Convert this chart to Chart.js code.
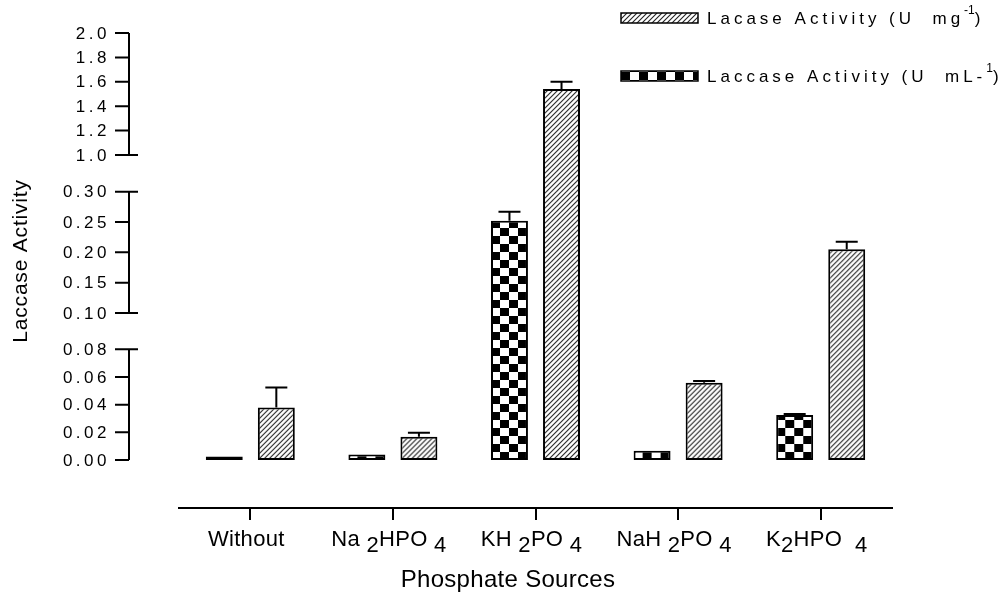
<!DOCTYPE html>
<html lang="en">
<head>
<meta charset="UTF-8">
<title>Laccase Activity - Phosphate Sources</title>
<script src="https://cdn.jsdelivr.net/npm/chart.js"></script>
<style>
   body { margin: 0; background: #fff; }
   .graph { width: 1008px; height: 608px; }
</style>
</head>
<body>
<div class="graph"><canvas id="myChart"></canvas></div>
<script>
   // data
   var categories = ['Without', 'Na2HPO4', 'KH2PO4', 'NaH2PO4', 'K2HPO4'];
   // same labels split into normal / subscript parts (1 = subscript)
   var categoryParts = [
      [['Without', 0]],
      [['Na ', 0], ['2', 1], ['HPO ', 0], ['4', 1]],
      [['KH ', 0], ['2', 1], ['PO ', 0], ['4', 1]],
      [['NaH ', 0], ['2', 1], ['PO ', 0], ['4', 1]],
      [['K', 0], ['2', 1], ['HPO  ', 0], ['4', 1]]
   ];
   var activityMl = [0.0025, 0.004, 0.252, 0.0067, 0.0325];
   var errorMl = [0, 0, 0.015, 0, 0.0008];
   var activityMg = [0.038, 0.0168, 1.541, 0.0559, 0.205];
   var errorMg = [0.0144, 0.0029, 0.06, 0.0012, 0.0125];

   var ticksTop = [1.0, 1.2, 1.4, 1.6, 1.8, 2.0];
   var ticksMid = [0.10, 0.15, 0.20, 0.25, 0.30];
   var ticksLow = [0.00, 0.02, 0.04, 0.06, 0.08];

   // broken axis: each value range gets its own stretch of the y scale
   var segments = [
      { min: 0, max: 0.08, from: 0, to: 110.7, ticks: ticksLow, digits: 2 },
      { min: 0.10, max: 0.30, from: 147, to: 268.3, ticks: ticksMid, digits: 2 },
      { min: 1.0, max: 2.0, from: 305, to: 427, ticks: ticksTop, digits: 1 }
   ];

   function toAxis(v) {
      for (var i = 0; i < segments.length; i++) {
         var s = segments[i];
         if (v <= s.max) {
            if (v >= s.min || i == 0) return s.from + (v - s.min) / (s.max - s.min) * (s.to - s.from);
            var p = segments[i - 1];
            return p.to + (v - p.max) / (s.min - p.max) * (s.from - p.to);
         }
      }
      var last = segments[segments.length - 1];
      return last.from + (v - last.min) / (last.max - last.min) * (last.to - last.from);
   }

   var canvas = document.getElementById('myChart');
   var ctx = canvas.getContext('2d');

   function hatchPattern() {
      var c = document.createElement('canvas');
      c.width = 5; c.height = 5;
      var g = c.getContext('2d');
      g.fillStyle = '#fff';
      g.fillRect(0, 0, 5, 5);
      g.strokeStyle = '#222';
      g.lineWidth = 1.1;
      g.beginPath();
      g.moveTo(-1, 6); g.lineTo(6, -1);
      g.moveTo(-1, 1); g.lineTo(1, -1);
      g.moveTo(4, 6); g.lineTo(6, 4);
      g.stroke();
      return ctx.createPattern(c, 'repeat');
   }

   function checkerPattern() {
      var c = document.createElement('canvas');
      c.width = 18; c.height = 16;
      var g = c.getContext('2d');
      g.fillStyle = '#fff';
      g.fillRect(0, 0, 18, 16);
      g.fillStyle = '#000';
      g.fillRect(0, 0, 9, 8);
      g.fillRect(9, 8, 9, 8);
      return ctx.createPattern(c, 'repeat');
   }

   var checkers = activityMl.map(function () { return checkerPattern(); });
   var hatches = activityMg.map(function () { return hatchPattern(); });
   var legendHatch = hatchPattern();
   var legendChecker = checkerPattern();

   var font = '"Liberation Sans", Arial, sans-serif';

   function drawParts(c, parts, x, y, size, spacing, shift) {
      c.save();
      c.letterSpacing = spacing + 'px';
      c.font = size + 'px ' + font;
      var total = 0;
      parts.forEach(function (p) { total += c.measureText(p[0]).width; });
      var cx = x - total / 2;
      c.textAlign = 'left';
      c.textBaseline = 'middle';
      c.fillStyle = '#000';
      parts.forEach(function (p) {
         c.fillText(p[0], cx, y + (p[1] ? shift : 0));
         cx += c.measureText(p[0]).width;
      });
      c.restore();
      return total;
   }

   var brokenAxis = {
      id: 'brokenAxis',
      beforeDatasetsDraw: function (chart) {
         // line the patterns up with each bar
         chart.data.datasets.forEach(function (ds, di) {
            chart.getDatasetMeta(di).data.forEach(function (bar, i) {
               var pat = ds.backgroundColor[i];
               pat.setTransform(new DOMMatrix().translate(bar.x - bar.width / 2, bar.base));
            });
         });
      },
      afterDatasetsDraw: function (chart) {
         var c = chart.ctx;
         var y = chart.scales.y;
         var errors = [errorMl, errorMg];
         var values = [activityMl, activityMg];

         // error bars
         c.save();
         c.strokeStyle = '#000';
         c.lineWidth = 2;
         chart.data.datasets.forEach(function (ds, di) {
            chart.getDatasetMeta(di).data.forEach(function (bar, i) {
               var e = errors[di][i];
               if (!e) return;
               var top = y.getPixelForValue(toAxis(values[di][i] + e));
               c.beginPath();
               c.moveTo(bar.x, bar.y);
               c.lineTo(bar.x, top);
               c.moveTo(bar.x - 11, top);
               c.lineTo(bar.x + 11, top);
               c.stroke();
            });
         });

         // y axis in three pieces
         var axisX = 129;
         segments.forEach(function (s, si) {
            var p0 = y.getPixelForValue(s.from);
            var p1 = y.getPixelForValue(s.to);
            c.beginPath();
            c.moveTo(axisX, p0);
            c.lineTo(axisX, p1);
            s.ticks.forEach(function (t) {
               var py = y.getPixelForValue(toAxis(t));
               c.moveTo(axisX - 14, py);
               c.lineTo(axisX, py);
            });
            if (si > 0) { c.moveTo(axisX, p0); c.lineTo(axisX + 9, p0); }
            if (si < segments.length - 1) { c.moveTo(axisX, p1); c.lineTo(axisX + 9, p1); }
            c.stroke();

            c.fillStyle = '#000';
            c.font = '17px ' + font;
            c.letterSpacing = '3.5px';
            c.textAlign = 'right';
            c.textBaseline = 'middle';
            s.ticks.forEach(function (t) {
               c.fillText(t.toFixed(s.digits), 110, y.getPixelForValue(toAxis(t)) + 1);
            });
         });
         c.restore();

         // category labels
         var x = chart.scales.x;
         categoryParts.forEach(function (parts, i) {
            drawParts(c, parts, x.getPixelForValue(i) - 4, 540, 22, 0.3, 6);
         });

         // axis titles
         drawParts(c, [['Phosphate Sources', 0]], 508, 580, 24, 0.3, 0);
         c.save();
         c.translate(21, 261);
         c.rotate(-Math.PI / 2);
         drawParts(c, [['Laccase Activity', 0]], 0, 0, 21, 0.8, 0);
         c.restore();

         // legend
         var legend = [
            { fill: legendHatch, parts: [['Lacase Activity (U  mg', 0], ['-1', 1], [')', 0]], y: 18 },
            { fill: legendChecker, parts: [['Laccase Activity (U  mL-', 0], ['1', 1], [')', 0]], y: 76 }
         ];
         legend.forEach(function (l) {
            c.save();
            c.fillStyle = l.fill;
            c.fillRect(621, l.y - 5, 77, 10);
            c.strokeStyle = '#000';
            c.lineWidth = 1.5;
            c.strokeRect(621, l.y - 5, 77, 10);
            c.textBaseline = 'middle';
            c.fillStyle = '#000';
            var cx = 707;
            l.parts.forEach(function (p) {
               if (p[1]) {
                  c.font = '12px ' + font;
                  c.letterSpacing = '0px';
                  c.fillText(p[0], cx, l.y - 7);
               } else {
                  c.font = '17px ' + font;
                  c.letterSpacing = '4px';
                  c.fillText(p[0], cx, l.y + 1);
               }
               cx += c.measureText(p[0]).width;
            });
            c.restore();
         });
      }
   };

   function toBars(values) {
      return values.map(function (v) { return [0, toAxis(v)]; });
   }

   var config = {
      type: 'bar',
      data: {
         labels: categories,
         datasets: [
            {
               label: 'Laccase Activity (U mL-1)',
               data: toBars(activityMl),
               backgroundColor: checkers,
               borderColor: '#000',
               borderWidth: 2,
               borderSkipped: false
            },
            {
               label: 'Lacase Activity (U mg-1)',
               data: toBars(activityMg),
               backgroundColor: hatches,
               borderColor: '#000',
               borderWidth: 2,
               borderSkipped: false
            }
         ]
      },
      options: {
         responsive: true,
         maintainAspectRatio: false,
         animation: false,
         categoryPercentage: 0.73,
         barPercentage: 0.71,
         layout: { padding: { top: 33, left: 179, right: 116, bottom: 88 } },
         plugins: { legend: { display: false }, tooltip: { enabled: false } },
         scales: {
            x: {
               offset: true,
               grid: { offset: false, drawOnChartArea: false, color: '#000', lineWidth: 2, tickLength: 12 },
               border: { color: '#000', width: 2 },
               ticks: { display: false }
            },
            y: {
               display: false,
               min: -48,
               max: 427
            }
         }
      },
      plugins: [brokenAxis]
   };

   var myChart = new Chart(canvas, config);
</script>
</body>
</html>
